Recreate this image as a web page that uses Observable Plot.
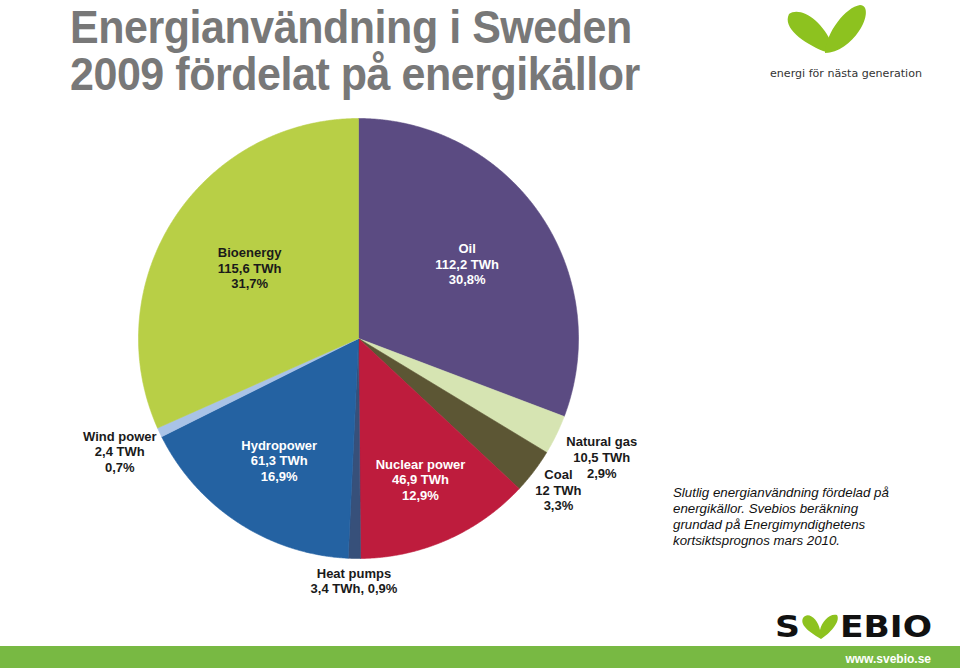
<!DOCTYPE html>
<html><head><meta charset="utf-8">
<script src="https://cdn.jsdelivr.net/npm/d3@7"></script>
<script src="https://cdn.jsdelivr.net/npm/@observablehq/plot@0.6"></script>
<style>
body{margin:0;background:#fff;font-family:"Liberation Sans",Arial,sans-serif;}
#wrap{position:relative;width:960px;height:671px;overflow:hidden;background:#fff;}
#chart{position:absolute;left:0;top:0;}
#title{position:absolute;left:70px;top:4px;font-weight:bold;color:#787878;font-size:46px;line-height:47px;white-space:nowrap;letter-spacing:-0.5px;transform:scaleX(0.935);transform-origin:0 0;}
#caption{position:absolute;left:673px;top:485px;font-style:italic;font-size:13.3px;line-height:16px;color:#111;}
#deco{position:absolute;left:0;top:0;}
</style></head>
<body><div id="wrap">
<div id="chart"></div>
<svg id="deco" width="960" height="671" xmlns="http://www.w3.org/2000/svg">
  <!-- top-right logo -->
  <path d="M789,14 C800,6 822,20 832,44 C834,51 830,54 823,51 C804,43 782,28 789,14 Z" fill="#8dc21f"/>
  <path d="M825,53 C826,32 846,7 860,5 C869,5 867,20 859,31 C851,43 838,53 825,53 Z" fill="#8dc21f"/>
  <text x="770" y="77" font-family="DejaVu Sans, sans-serif" font-size="11" fill="#333" textLength="152" lengthAdjust="spacingAndGlyphs">energi för nästa generation</text>
  <!-- bottom SVEBIO logo -->
  <text x="775" y="637" font-family="DejaVu Sans, sans-serif" font-weight="bold" font-size="30" fill="#111" textLength="25" lengthAdjust="spacingAndGlyphs">S</text>
  <path d="M803,618 C808,611 818,619 820,630 C822,621 830,613 837,615 C841,622 829,634 821,639 C813,634 799,626 803,618 Z" fill="#8dc21f"/>
  <text x="840" y="637" font-family="DejaVu Sans, sans-serif" font-weight="bold" font-size="30" fill="#111" textLength="92" lengthAdjust="spacingAndGlyphs">EBIO</text>
  <rect x="0" y="646" width="960" height="22" fill="#78b943"/>
  <text x="931" y="663" text-anchor="end" font-family="Liberation Sans, Arial, sans-serif" font-weight="bold" font-size="12" fill="#fff">www.svebio.se</text>
</svg>
<div id="title">Energianvändning i Sweden<br>2009 fördelat på energikällor</div>
<div id="caption">Slutlig energianvändning fördelad på<br>energikällor. Svebios beräkning<br>grundad på Energimyndighetens<br>kortsiktsprognos mars 2010.</div>
</div>
<script>
// ---- data ----
const sources = ["Oil", "Natural gas", "Coal", "Nuclear power", "Heat pumps", "Hydropower", "Wind power", "Bioenergy"];
const twh = [112.2, 10.5, 12, 46.9, 3.4, 61.3, 2.4, 115.6];
const shares = [30.8, 2.9, 3.3, 12.9, 0.9, 16.9, 0.7, 31.7];
const colors = ["#5b4b82", "#d6e4b2", "#5c5634", "#be1c3d", "#37507a", "#2462a2", "#a9c3e7", "#b8cf46"];

// ---- label layout (style only) ----
const labelRadius = [0.6, 1.23, 1.14, 0.7, 1.1, 0.66, 1.2, 0.59];
const labelWhite = [true, false, false, true, false, true, false, false];

const cx = 358, cy = 338, R = 220;
const fmt = v => (Number.isInteger(v) ? String(v) : v.toFixed(1)).replace(".", ",");

const rows = sources.map((s, i) => ({name: s, twh: twh[i], share: shares[i], i}));
const arcs = d3.pie().sort(null).value(d => d.share)(rows);

const pts = [];
for (const a of arcs) {
  const n = Math.max(2, Math.ceil((a.endAngle - a.startAngle) / 0.005));
  pts.push({name: a.data.name, x: cx, y: cy});
  for (let k = 0; k <= n; k++) {
    const t = a.startAngle + (a.endAngle - a.startAngle) * k / n;
    pts.push({name: a.data.name, x: cx + R * Math.sin(t), y: cy - R * Math.cos(t)});
  }
  pts.push({name: a.data.name, x: cx, y: cy});
}

const labels = arcs.map(a => {
  const i = a.data.i;
  const m = (a.startAngle + a.endAngle) / 2;
  const r = R * labelRadius[i];
  const text = a.data.name === "Heat pumps"
    ? `${a.data.name}\n${fmt(a.data.twh)} TWh, ${fmt(a.data.share)}%`
    : `${a.data.name}\n${fmt(a.data.twh)} TWh\n${fmt(a.data.share)}%`;
  return {x: cx + r * Math.sin(m), y: cy - r * Math.cos(m), text, white: labelWhite[i]};
});

const chart = Plot.plot({
  width: 960, height: 671, margin: 0,
  x: {domain: [0, 960], range: [0, 960], axis: null},
  y: {domain: [0, 671], range: [0, 671], axis: null},
  color: {domain: sources, range: colors},
  style: {background: "transparent", fontFamily: "Liberation Sans, Arial, sans-serif"},
  marks: [
    Plot.line(pts, {x: "x", y: "y", z: "name", fill: "name", stroke: "name", strokeWidth: 0.6, curve: "linear"}),
    Plot.text(labels.filter(d => d.white), {x: "x", y: "y", text: "text", fill: "white", fontWeight: "bold", fontSize: 13, lineHeight: 1.2}),
    Plot.text(labels.filter(d => !d.white), {x: "x", y: "y", text: "text", fill: "#1a1a1a", fontWeight: "bold", fontSize: 13, lineHeight: 1.2})
  ]
});
document.getElementById("chart").appendChild(chart);
</script>
</body></html>
